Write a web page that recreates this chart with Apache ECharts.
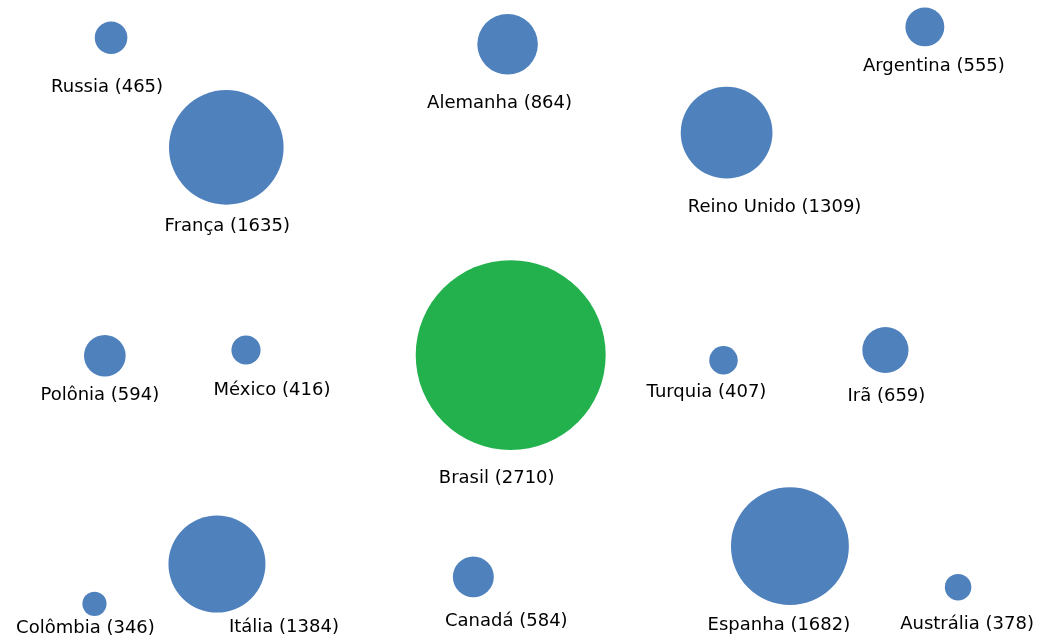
<!DOCTYPE html>
<html>
<head>
<meta charset="utf-8">
<script src="https://cdn.jsdelivr.net/npm/echarts@6/dist/echarts.min.js"></script>
<style>
html,body{margin:0;padding:0;background:#fff;}
#chart{width:1038px;height:641px;}
</style>
</head>
<body>
<div id="chart"></div>
<script>
// ---- data ----
const countries = ["Russia","Alemanha","Argentina","França","Reino Unido","Brasil","Polônia","México","Turquia","Irã","Colômbia","Itália","Canadá","Espanha","Austrália"];
const values    = [465, 864, 555, 1635, 1309, 2710, 594, 416, 407, 659, 346, 1384, 584, 1682, 378];
const xPos      = [10.7, 48.9, 89.1, 21.8, 70.0, 49.2, 10.1, 23.7, 69.7, 85.3, 9.1, 20.9, 45.6, 76.1, 92.3];
const yPos      = [94.1, 93.1, 95.8, 77.0, 79.3, 44.6, 44.5, 45.4, 43.8, 45.4, 5.8, 12.0, 10.0, 14.8, 8.4];
const highlight = "Brasil";

// ---- styling (label placement in px relative to bubble centre) ----
const labelOffsets = [[-4,50],[-8,59],[9,39],[1,79],[48,75],[-14,123],[-5,40],[26,40],[-17,32],[1,46],[-9,25],[67,63],[33,44],[-11,79],[9,37]];
const sizeScale = 0.0701; // diameter px per unit

const seriesData = countries.map((c, i) => ({
  name: c,
  value: [xPos[i], yPos[i], values[i]],
  itemStyle: { color: c === highlight ? "#23B14D" : "#4F81BD", opacity: 1 },
  label: { offset: labelOffsets[i] }
}));

const chart = echarts.init(document.getElementById("chart"), null, {renderer: "canvas"});
chart.setOption({
  animation: false,
  backgroundColor: "#fff",
  grid: { left: 0, right: 0, top: 0, bottom: 0 },
  xAxis: { type: "value", min: 0, max: 100, show: false },
  yAxis: { type: "value", min: 0, max: 100, show: false },
  series: [{
    type: "scatter",
    data: seriesData,
    symbol: "circle",
    symbolSize: v => v[2] * sizeScale,
    itemStyle: { opacity: 1 },
    label: {
      show: true,
      position: "inside",
      formatter: p => p.name + " (" + p.value[2] + ")",
      fontFamily: "DejaVu Sans",
      fontSize: 18,
      color: "#000",
      opacity: 1
    },
    emphasis: { disabled: true }
  }]
});
</script>
</body>
</html>
